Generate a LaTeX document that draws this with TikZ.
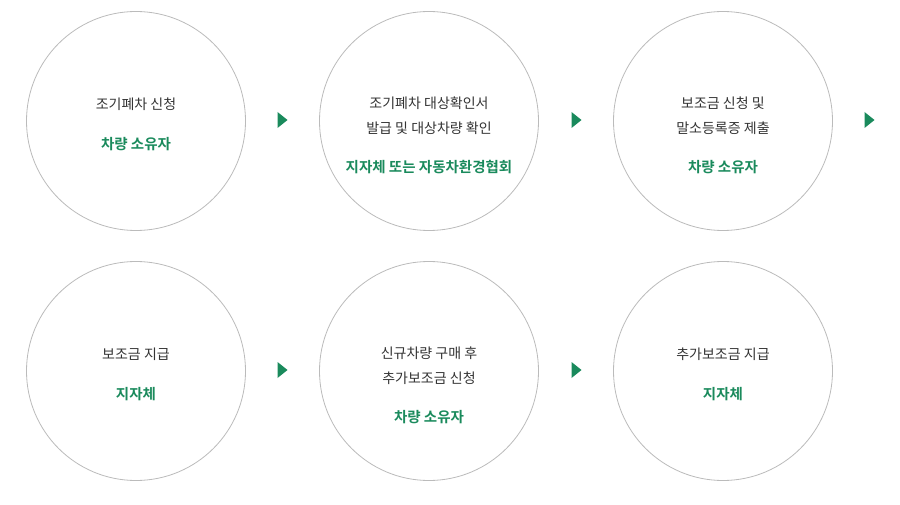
\documentclass[tikz,border=0pt]{standalone}
\usetikzlibrary{calc}
\usepackage{fontspec}
\setmainfont{Noto Sans CJK KR}
\newfontfamily\boldkr{Noto Sans CJK KR Bold}
\definecolor{grn}{HTML}{1A8A5C}
\definecolor{txt}{HTML}{333333}
\definecolor{ring}{HTML}{BBBBBB}
\begin{document}
\begin{tikzpicture}[x=1pt,y=-1pt,
  stepcircle/.style={circle,draw=ring,line width=0.8pt,minimum size=219pt,inner sep=0pt},
  tx/.style={text=txt,font=\fontsize{14}{25}\selectfont,align=center},
  gx/.style={text=grn,font=\fontsize{14.5}{25}\boldkr,align=center},
  tri/.style={fill=grn,draw=none}]
\useasboundingbox (0,0) rectangle (900,505);
\node[stepcircle] (c1) at (136,121) {};
\node[stepcircle] (c2) at (429,121) {};
\node[stepcircle] (c3) at (723,121) {};
\node[stepcircle] (c4) at (136,371) {};
\node[stepcircle] (c5) at (429,371) {};
\node[stepcircle] (c6) at (723,371) {};
\node[tx] (t1) at (136,104) {조기폐차 신청};
\node[gx] (g1) at (136,144) {차량 소유자};
\node[tx] (t2) at (429,116) {조기폐차 대상확인서\\발급 및 대상차량 확인};
\node[gx] (g2) at (429,167) {지자체 또는 자동차환경협회};
\node[tx] (t3) at (723,116) {보조금 신청 및\\말소등록증 제출};
\node[gx] (g3) at (723,167) {차량 소유자};
\node[tx] (t4) at (136,354) {보조금 지급};
\node[gx] (g4) at (136,394) {지자체};
\node[tx] (t5) at (429,366) {신규차량 구매 후\\추가보조금 신청};
\node[gx] (g5) at (429,417) {차량 소유자};
\node[tx] (t6) at (723,354) {추가보조금 지급};
\node[gx] (g6) at (723,394) {지자체};
\foreach \n/\x/\y in {a1/282/120,a2/576/120,a3/869/120,a4/282/370,a5/576/370}{
  \coordinate (\n) at (\x,\y);
  \fill[tri] ($(\n)+(-4.5,-8)$) -- ($(\n)+(5.5,0)$) -- ($(\n)+(-4.5,8)$) -- cycle;
}
\end{tikzpicture}
\end{document}
